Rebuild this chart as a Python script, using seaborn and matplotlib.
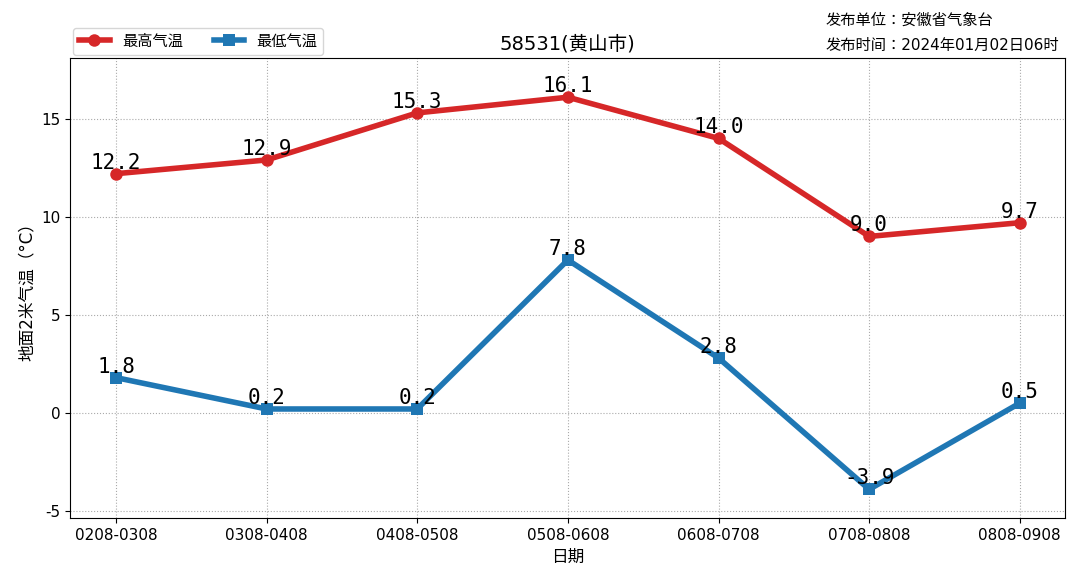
import matplotlib
matplotlib.use("Agg")
import matplotlib.pyplot as plt
import seaborn as sns
import pandas as pd

dates = ["0208-0308","0308-0408","0408-0508","0508-0608","0608-0708","0708-0808","0808-0908"]
high = [12.2,12.9,15.3,16.1,14.0,9.0,9.7]
low = [1.8,0.2,0.2,7.8,2.8,-3.9,0.5]

plt.rcParams["font.family"] = ["DejaVu Sans", "Noto Sans CJK JP", "Noto Sans CJK SC", "Noto Sans CJK TC", "Noto Sans CJK KR"]
plt.rcParams["axes.unicode_minus"] = False
fig = plt.figure(figsize=(10.8,5.84), dpi=100)
ax = fig.add_axes([70/1080, 1-518/584, 995/1080, 460/584])
x = list(range(len(dates)))
df = pd.DataFrame({"x": x, "high": high, "low": low})
sns.lineplot(data=df, x="x", y="high", ax=ax, color="#d62728", lw=4, marker="o", markersize=9, markeredgewidth=0, label="最高气温")
sns.lineplot(data=df, x="x", y="low", ax=ax, color="#1f77b4", lw=4, marker="s", markersize=9, markeredgewidth=0, label="最低气温")
for xi, h, l in zip(x, high, low):
    ax.text(xi, h+0.05, f"{h:.1f}", ha="center", va="bottom", fontsize=15, family="DejaVu Sans Mono")
    ax.text(xi, l+0.05, f"{l:.1f}", ha="center", va="bottom", fontsize=15, family="DejaVu Sans Mono")
ax.set_xticks(x)
ax.set_xticklabels(dates, fontsize=11)
ax.set_xlim(-0.305, 6.3)
ax.set_ylim(-5.36, 18.1)
ax.set_yticks([-5,0,5,10,15])
ax.tick_params(labelsize=11)
ax.grid(True, linestyle=":", color="#aaaaaa")
ax.set_xlabel("日期", fontsize=12)
ax.set_ylabel("地面2米气温（°C）", fontsize=12)
ax.set_title("58531(黄山市)", fontsize=14)
ax.legend(loc="lower left", bbox_to_anchor=(0.0, 1.0), ncol=2, fontsize=11, frameon=True, borderaxespad=0.2)
fig.text(826/1080, 1-20/584, "发布单位：安徽省气象台", fontsize=11, va="center")
fig.text(826/1080, 1-45/584, "发布时间：2024年01月02日06时", fontsize=11, va="center")
fig.savefig("out.png", dpi=100)
